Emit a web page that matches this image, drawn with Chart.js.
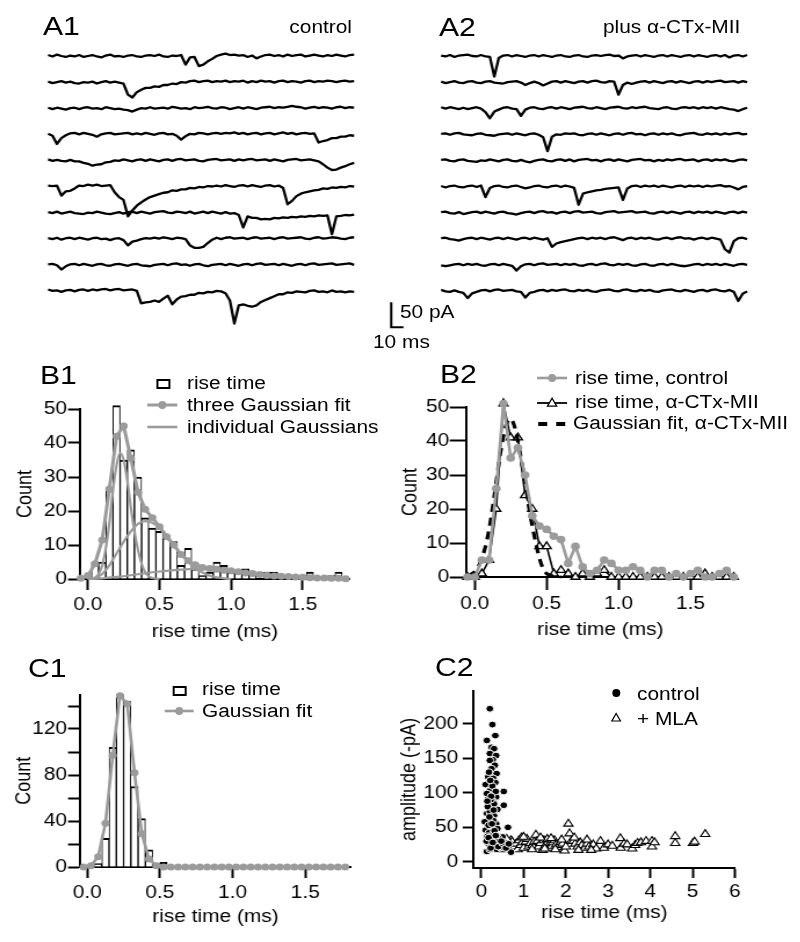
<!DOCTYPE html>
<html><head><meta charset="utf-8">
<script src="https://cdn.jsdelivr.net/npm/chart.js@4.4.1/dist/chart.umd.min.js"></script>
<style>
html,body{margin:0;padding:0;background:#fff;width:800px;height:942px;overflow:hidden;}
#page{position:absolute;left:0;top:0;width:689.66px;height:942px;transform:scaleX(1.16);transform-origin:0 0;}
#page canvas{position:absolute;}
.t{position:absolute;font-family:"Liberation Sans",Arial,sans-serif;color:#000;white-space:nowrap;line-height:1;}
</style></head><body><div id="page"></div>
<script>
// ---------------- DATA ----------------
const DT = 4; // ms per trace sample
// A1: control traces (pA, baseline 0)
const ctl1 = [2,-1,3,0,-2,1,-1,2,-2,0, 2,-1,-3,1,3,-1,0,-2,1,2, -1,-2,1,2,0,3,-1,-2,1,0, 2,-18,-3,-2,-21,-18,-11,-6,0,3, 5,2,3,1,2,-2,1,-5,-1,2, 3,0,2,-1,3,0,2,3,-1,1, 3,1,-1,2,0,3,1,-1,2,3];
const ctl2 = [1,-2,0,2,-1,1,-2,-3,0,-1, 1,-3,0,2,-1,1,-1,-3,-26,-32, -21,-16,-12,-12,-9,-10,-6,-6,-3,-4, 0,-1,2,3,0,2,3,0,2,1, 3,0,2,1,3,-1,2,0,3,1, 2,-1,2,3,0,2,1,-1,2,3, 0,2,1,3,2,0,2,3,1,2];
const ctl3 = [1,-2,1,-1,-3,0,1,-2,1,2, -1,0,-2,2,0,-2,-1,-3,-4,-7, -3,0,-1,2,-1,0,1,-1,3,1, -1,0,-2,2,0,1,3,0,-1,2, 1,-2,0,2,-1,2,0,-2,1,2, 3,0,2,1,3,5,3,2,-1,1, 3,0,2,1,-1,2,3,0,2,1];
const ctl4 = [1,-3,-20,-8,-2,2,3,0,3,1, -1,-5,0,2,3,0,1,2,3,0, 2,0,3,1,-1,2,3,0,1,-3, -11,-4,1,0,3,2,0,2,3,1, 3,2,4,1,3,0,2,3,0,2, 3,0,2,4,1,3,0,2,3,1, 2,-17,-14,-12,-8,-8,-5,-5,-2,-3];
const ctl5 = [2,-1,1,-1,-2,1,-2,-2,-5,-7, -11,-9,-8,-4,-3,0,-1,2,0,-2, 1,2,-1,2,0,-2,1,2,-1,2, 3,0,1,2,-1,-2,1,2,3,0, 1,2,-1,2,0,2,3,0,1,2, -1,2,0,-2,1,2,3,0,1,2, 0,-2,-8,-15,-20,-19,-15,-12,-8,-5];
const ctl6 = [2,1,2,-19,-10,-9,-4,2,1,4, 2,4,1,2,3,-12,-22,-28,-62,-50, -40,-33,-27,-22,-19,-16,-13,-12,-8,-9, -6,-6,-3,-4,-1,-2,1,0,2,0, 3,1,-1,2,3,0,3,1,-1,2, 3,0,2,-3,-37,-30,-20,-15,-12,-10, -8,-7,-4,-5,-2,-3,-1,-2,1,0];
const ctl7 = [1,-1,2,-2,0,2,-1,-2,-3,0, -1,2,0,-2,-3,-1,1,-2,1,2, -1,2,0,-2,1,2,3,0,-1,2, 1,-1,2,-2,0,2,-1,2,0,-2, 1,-2,-1,-5,-31,-8,-11,-11,-14,-13, -14,-11,-12,-10,-11,-9,-10,-8,-9,-7, -8,-6,-7,-6,-45,-8,-7,-5,-6,-4];
const ctl8 = [1,-1,2,-2,1,2,-1,2,0,-2, 1,2,-1,0,-3,0,1,-3,-14,-6, -4,-1,1,0,2,0,3,1,-1,2, 1,-1,-14,-19,-19,-17,-9,-2,2,-1, 2,3,0,1,2,-1,2,3,0,1, 2,-1,2,3,0,1,2,3,0,-1, 2,3,0,1,3,2,0,-1,2,3];
const ctl9 = [1,2,-1,-10,-3,1,2,-1,2,0, -2,1,2,-1,-2,1,2,0,-2,1, 2,-1,-2,-3,0,1,2,-1,2,3, 0,1,-2,1,2,-1,-3,0,1,2, -1,2,0,-2,1,2,-1,2,3,0, 1,2,-1,2,0,-2,1,2,-1,2, 3,0,1,2,3,0,1,2,3,0];
const ctl10 = [3,0,1,-2,1,2,-1,2,3,0, 3,1,3,4,1,3,4,1,2,3, 0,-26,-24,-23,-20,-23,-16,-10,-28,-18, -12,-11,-8,-8,-4,-5,-2,-3,0,-1, -5,-20,-68,-30,-28,-31,-33,-30,-23,-19, -15,-11,-7,-7,-3,-4,-1,-2,-3,0, 1,-2,-1,-3,1,-2,-1,-3,-1,-2];
// A2: plus alpha-CTx-MII traces
const mii1 = [1,-1,2,-2,1,2,3,0,-1,2, -1,-2,-43,-4,1,2,-1,2,0,-2, 1,2,-1,2,0,-2,1,2,-1,-2, 1,2,-1,-2,1,2,0,2,3,0, 1,-5,-1,1,2,-1,2,0,-2,1, 2,-1,2,0,-2,1,2,-1,2,0, -2,1,2,-1,2,-3,1,2,-1,2];
const mii2 = [1,-2,0,2,-1,-2,1,2,-1,-2, 1,2,-1,-2,-3,0,1,2,-1,-6, -2,1,-2,-7,-3,1,2,-1,2,0, -2,1,2,-1,2,3,0,-1,2,1, -26,-6,-1,-4,-1,1,2,-1,2,0, -2,1,2,-1,2,0,-2,1,2,-1, 2,0,2,3,0,1,2,-1,2,0];
const mii3 = [2,-1,2,0,-2,1,-2,0,2,-1, -8,-21,-7,-3,1,2,-1,-2,-16,-3, 1,2,-1,-2,1,2,-1,2,0,-2, 1,2,3,0,-1,2,0,-2,1,2, 3,0,-1,2,0,2,3,0,-1,-2, 1,2,-1,-2,1,2,0,2,-1,2, 0,2,-1,2,0,-2,-3,-6,-2,1];
const mii4 = [1,2,-1,2,3,0,-1,-2,1,2, -1,-2,-3,0,1,2,-1,2,0,-2, 1,2,-1,-6,-35,-5,0,-1,2,1, 2,-1,-2,1,2,-1,2,0,-2,1, 2,-1,2,3,0,1,-2,1,2,-1, 2,0,2,-1,-2,1,2,3,0,-1, 2,0,2,-1,2,0,2,3,0,1];
const mii5 = [1,2,-1,-2,1,2,-1,-2,-3,0, -1,2,0,-2,1,2,-1,-2,1,-2, -4,-1,1,2,-1,-2,1,2,-1,2, -2,1,2,3,0,1,-2,1,2,-1, 2,0,-2,1,2,3,0,1,-2,1, -1,2,0,2,3,0,1,2,-2,1, 2,-1,2,0,2,-1,-2,1,2,0];
const mii6 = [1,-2,1,2,-1,-2,1,2,-1,2, -22,-3,1,2,-1,-2,1,2,-1,-4, -2,1,2,-1,-2,1,2,-1,2,0, -3,-38,-15,-12,-10,-8,-7,-5,-4,-3, -2,-28,-4,1,2,-1,2,0,2,-1, 2,0,-2,1,2,-1,2,0,2,-1, 2,0,2,3,0,1,-2,-6,-1,1];
const mii7 = [1,2,-1,-2,1,-3,-1,1,2,-1, 2,0,-2,1,2,-1,-2,-4,-1,1, 2,-1,2,3,0,1,-2,1,2,-1, 2,3,0,1,2,-1,-2,1,2,3, 0,1,2,3,0,1,2,-1,-2,1, 2,-1,2,0,-2,1,2,-1,2,0, 2,-1,2,0,-2,1,2,-1,2,0];
const mii8 = [1,2,-1,-2,-4,-1,1,2,-1,2, 0,-2,1,2,-1,2,0,-2,1,2, -1,2,0,-2,1,-17,-10,-7,-5,-3, -1,1,2,-1,2,0,2,-1,2,3, 0,-3,1,2,-1,2,0,2,-1,-2, 1,2,-1,2,3,0,1,-2,1,2, -1,2,0,-2,-22,-29,-5,1,2,-1];
const mii9 = [-1,-3,-1,1,2,-1,2,0,2,-1, -2,1,2,-1,2,0,-2,-12,-3,1, 2,-1,2,3,0,1,2,-1,2,0, 2,-1,-2,1,2,-1,2,3,0,-1, 2,0,2,-1,-2,1,2,-1,-2,1, 2,-1,2,0,-2,-3,-1,1,2,-1, 2,0,2,-1,2,0,-2,1,2,0];
const mii10 = [2,-1,-2,1,-2,-4,-15,-5,-2,1, 2,-1,2,3,0,1,2,-1,-2,-14, -4,-2,1,2,-1,2,0,2,3,0, -1,2,0,2,-1,-2,1,2,3,0, -1,2,3,0,-1,2,0,2,-1,-2, 1,2,3,0,-1,2,0,-2,1,2, -1,2,3,0,-1,2,-2,-21,-6,-1];
const scaleBarMs = 10, scaleBarPA = 50;

// B1 / B2: rise-time histograms (bins of 0.05 ms)
const binsB = [-0.05,0,0.05,0.1,0.15,0.2,0.25,0.3,0.35,0.4,0.45,0.5,0.55,0.6,0.65,0.7,0.75,0.8,0.85,0.9,0.95,1.0,1.05,1.1,1.15,1.2,1.25,1.3,1.35,1.4,1.45,1.5,1.55,1.6,1.65,1.7,1.75,1.8];
const countControl = [0,0,5,5,26,51,35,38,30,18, 15,14,12,11,4,9,3,1,2,5, 4,2,2,3,2,0,2,2,0,1, 0,1,2,0,0,1,2,0];
const countMII = [0,0,1,5,20,51,41,41,24,20, 9,9,1,2,1,0,1,0,1,2, 0,0,0,0,0,0,0,0,0,0, 0,0,0,1,0,0,0,0];
const fitThreeGauss = [0.2,1,4.5,11.5,26.5,42,45,35.5,25.5,20.5, 18,15.4,12.4,10,7.2,5.4,4.2,3.4,3.1,2.9, 2.6,2.4,2.1,1.8,1.6,1.3,1.1,0.9,0.8,0.7, 0.6,0.5,0.4,0.3,0.3,0.2,0.2,0.1];
const xNarrow = [0,0.025,0.05,0.075,0.1,0.125,0.15,0.175,0.2,0.225,0.25,0.275,0.3,0.325,0.35,0.375,0.4,0.425,0.45,0.475,0.5];
const gaussNarrow = [0,0.1,0.4,1.5,4,9,16.5,26,33.5,37,35,29,21,14,8.5,4.5,2,0.8,0.3,0.1,0];
const xMedium = [0,0.05,0.1,0.15,0.2,0.25,0.3,0.35,0.4,0.45,0.5,0.55,0.6,0.65,0.7,0.75,0.8,0.85,0.9,0.95,1.0];
const gaussMedium = [0,0.3,1.5,4,7.5,11,14,16.2,17,16.5,15,12.8,10,7.3,5,3.2,1.9,1,0.5,0.2,0];
const xWide = [0,0.1,0.2,0.3,0.4,0.5,0.6,0.7,0.8,0.9,1.0,1.1,1.2,1.3,1.4,1.5,1.6,1.7,1.8];
const gaussWide = [0,0.2,0.6,1.1,1.7,2.2,2.6,2.9,3.0,2.8,2.5,2.0,1.5,1.1,0.8,0.55,0.35,0.22,0.12];
const xFitMII = [-0.05,0,0.025,0.05,0.075,0.1,0.125,0.15,0.175,0.2,0.225,0.25,0.275,0.3,0.325,0.35,0.375,0.4,0.425,0.45,0.475,0.5,0.525,0.55,0.6];
const fitMII = [0.3,1.5,3,5.5,9,14,20.5,28,35.5,41.5,45.5,46.5,44.5,40,34,28,21,15,10,5.5,2.5,1,0.5,0.2,0];

// C1: rise-time histogram
const binsC = [-0.025,0.025,0.075,0.125,0.175,0.225,0.275,0.325,0.375,0.425,0.475,0.525,0.575,0.625,0.675,0.725,0.775,0.825,0.875,0.925,0.975,1.025,1.075,1.125,1.175,1.225,1.275,1.325,1.375,1.425,1.475,1.525,1.575,1.625,1.675,1.725,1.775];
const countC1 = [0,0,3,25,104,150,144,70,42,15, 3,4,0,0,0,0,0,0,0,0, 0,0,0,0,0,0,0,0,0,0, 0,0,0,0,0,0,0];
const fitC1 = [0,1,9,38,97,149,142,82,29,7, 1,0,0,0,0,0,0,0,0,0, 0,0,0,0,0,0,0,0,0,0, 0,0,0,0,0,0,0];

// C2: amplitude vs rise time
const riseCtl = [0.20,0.26,0.33,0.13,0.24,0.30,0.20,0.35,0.27,0.20, 0.32,0.24,0.36,0.16,0.28,0.10,0.33,0.24,0.20,0.53, 0.30,0.16,0.35,0.13,0.27,0.53,0.24,0.38,0.13,0.20, 0.30,0.22,0.20,0.08,0.35,0.63,0.10,0.27,0.18,0.28, 0.50,0.40,0.14,0.33,0.16,0.24,0.43,0.30,0.13,0.70, 0.20,0.36,0.45,0.55,0.60,0.25,0.12,0.38,0.17,0.30, 0.18,0.26,0.34,0.22,0.15,0.28,0.40,0.50,0.47,0.58, 0.65,0.22,0.19,0.29,0.23,0.31,0.17,0.25,0.21,0.34, 0.27,0.14];
const ampCtl = [222,199,183,176,166,164,157,154,148,147, 140,135,128,123,121,112,115,106,103,102, 98,94,94,99,88,82,82,76,70,73, 67,62,58,58,55,50,46,44,42,41, 36,34,37,30,27,26,25,22,15,14, 18,18,21,24,27,33,30,48,53,84, 130,110,102,90,80,60,22,27,30,20, 26,20,65,75,95,45,35,55,118,38, 28,88];
const riseMLA = [0.35,0.41,0.45,0.49,0.55,0.61,0.65,0.70,0.73,0.78, 0.82,0.86,0.89,0.93,0.97,1.00,1.05,1.08,1.12,1.16, 1.21,1.25,1.29,1.32,1.36,1.40,1.45,1.48,1.52,1.56, 1.60,1.63,1.67,1.69,1.73,1.77,1.81,1.85,1.88,1.92, 1.97,2.00,2.06,2.09,2.13,2.18,2.22,2.28,2.34,2.38, 2.45,2.50,2.55,2.65,2.72,2.82,2.90,3.00,3.10,3.29, 3.30,3.38,3.45,3.57,3.64,3.70,3.78,3.90,4.04,4.04, 4.10,4.59,4.59,5.01,5.05,5.30,0.95,1.20,1.50,1.75, 2.30,2.60,0.60,1.00,1.40,1.65,1.90,2.20,2.50];
const ampMLA = [22,29,18,22,27,25,20,31,29,22, 26,18,31,24,28,20,29,33,22,27, 24,29,39,30,22,27,17,31,24,33, 20,27,23,28,31,25,21,24,29,26, 16,22,55,41,30,30,26,22,28,24, 20,26,22,25,19,30,20,25,23,34, 20,26,25,19,24,27,28,30,30,22, 28,37,27,27,29,40,35,18,19,18, 17,17,33,36,35,34,32,35,32];

const ticksRise = [0,0.5,1,1.5];
const ticksCountB = [0,10,20,30,40,50];
const ticksCountC = [0,20,40,60,80,100,120,140];
const ticksRiseC2 = [0,1,2,3,4,5,6];
const ticksAmp = [0,50,100,150,200];

// ---------------- LAYOUT / STYLE ----------------
const S = 1.16;                 // horizontal stretch of the figure
const PAGE_W = 800 / S;
const FONT = '"Liberation Sans", Arial, sans-serif';
const GRAY = '#9b9b9b';
const PX_PER_PA = 24 / 50;      // trace scale
const TRACE_GAP_PX = 26.1;
const TRACE_TOP_BASE = 56;
const page = document.getElementById('page');
Chart.defaults.font.family = FONT;
Chart.defaults.font.size = 18;
Chart.defaults.color = '#000';

function makeCanvas(x, y, w, h) {
  const c = document.createElement('canvas');
  const wd = Math.round(w / S);
  c.width = wd; c.height = h;
  c.style.left = (x / S) + 'px'; c.style.top = y + 'px';
  c.style.width = wd + 'px'; c.style.height = h + 'px';
  page.appendChild(c);
  return c;
}
function addText(str, x, baseline, size, anchor) {
  const d = document.createElement('div');
  d.className = 't';
  d.textContent = str;
  d.style.fontSize = size + 'px';
  d.style.top = (baseline - 0.8465 * size) + 'px';
  if (anchor === 'right') d.style.right = (PAGE_W - x / S) + 'px';
  else d.style.left = (x / S) + 'px';
  page.appendChild(d);
}
function sym(xc, yc, w, h, inner) {
  const ns = 'http://www.w3.org/2000/svg';
  const s = document.createElementNS(ns, 'svg');
  s.setAttribute('viewBox', '0 0 ' + w + ' ' + h);
  s.setAttribute('preserveAspectRatio', 'none');
  s.setAttribute('width', w / S); s.setAttribute('height', h);
  s.style.position = 'absolute';
  s.style.left = ((xc - w / 2) / S) + 'px'; s.style.top = (yc - h / 2) + 'px';
  s.style.overflow = 'visible';
  s.innerHTML = inner;
  page.appendChild(s);
}
const xy = (xs, ys) => xs.map((x, i) => ({ x: x, y: ys[i] }));

function traceChart(box, area, traces, plugins) {
  const cv = makeCanvas(box.x, box.y, box.w, box.h);
  const wd = cv.width;
  const yMax = (TRACE_TOP_BASE - area.t) / PX_PER_PA;
  const yMin = yMax - (area.b - area.t) / PX_PER_PA;
  const gapPA = TRACE_GAP_PX / PX_PER_PA;
  return new Chart(cv, {
    type: 'line',
    data: { datasets: traces.map((vals, k) => ({
      data: vals.map((v, i) => ({ x: i * DT, y: v - k * gapPA })),
      borderColor: '#000', borderWidth: 2.3, pointRadius: 0, tension: 0, clip: false, fill: false, borderJoinStyle: 'round'
    })) },
    options: {
      responsive: false, animation: false, events: [],
      layout: { padding: { left: (area.l - box.x) / S, right: wd - (area.r - box.x) / S, top: area.t - box.y, bottom: box.y + box.h - area.b } },
      plugins: { legend: { display: false }, tooltip: { enabled: false } },
      scales: {
        x: { type: 'linear', display: false, min: 0, max: (traces[0].length - 1) * DT },
        y: { type: 'linear', display: false, min: yMin, max: yMax }
      }
    },
    plugins: plugins || []
  });
}

function axisChart(box, area, o) {
  const cv = makeCanvas(box.x, box.y, box.w, box.h);
  const wd = cv.width;
  const yW = (area.l - box.x) / S;
  const xH = box.y + box.h - area.b;
  const lh = 18 * 1.2;
  return new Chart(cv, {
    type: o.type || 'bar',
    data: { datasets: o.datasets },
    options: {
      responsive: false, animation: false, events: [],
      layout: { padding: { left: 0, top: area.t - box.y, right: wd - (area.r - box.x) / S, bottom: 0 } },
      plugins: { legend: { display: false }, tooltip: { enabled: false } },
      scales: {
        x: {
          type: 'linear', position: 'bottom', min: o.xMin, max: o.xMax, offset: false,
          afterFit: s => { s.height = xH; },
          afterBuildTicks: s => { s.ticks = o.xTicks.map(v => ({ value: v })); },
          grid: { display: true, drawOnChartArea: false, drawTicks: true, tickLength: o.xTickLen, tickWidth: 2, tickColor: '#000', offset: false },
          border: { display: true, color: '#000', width: 2 },
          ticks: { color: '#000', font: { size: 18 }, padding: o.xPad, maxRotation: 0, autoSkip: false, callback: o.xFmt },
          title: { display: true, text: 'rise time (ms)', color: '#000', font: { size: 18 }, padding: { top: 0, bottom: (box.y + box.h - o.xTitleY) - lh / 2 } }
        },
        y: {
          type: 'linear', position: 'left', min: o.yMin, max: o.yMax,
          afterFit: s => { s.width = yW; },
          afterBuildTicks: s => { s.ticks = o.yTicks.map(v => ({ value: v })); },
          grid: { display: true, drawOnChartArea: false, drawTicks: true, tickLength: o.yTickLen, tickWidth: 2, tickColor: '#000' },
          border: { display: true, color: '#000', width: 2 },
          ticks: { color: '#000', font: { size: 18 }, padding: o.yPad, callback: o.yFmt },
          title: { display: true, text: o.yTitle, color: '#000', font: { size: 18 }, padding: { top: (o.yTitleX - box.x) / S - lh / 2, bottom: 0 } }
        }
      }
    }
  });
}

// ---------------- A1 / A2 traces ----------------
traceChart({ x: 44, y: 20, w: 314, h: 326 }, { l: 48, t: 20, r: 354, b: 340 },
  [ctl1, ctl2, ctl3, ctl4, ctl5, ctl6, ctl7, ctl8, ctl9, ctl10]);

const scaleBar = {
  id: 'scaleBar',
  afterDraw(chart) {
    const { ctx } = chart, xs = chart.scales.x, ys = chart.scales.y;
    const t0 = -45, v0 = -565;
    const x0 = xs.getPixelForValue(t0), x1 = xs.getPixelForValue(t0 + scaleBarMs);
    const y0 = ys.getPixelForValue(v0), y1 = ys.getPixelForValue(v0 + scaleBarPA);
    ctx.save(); ctx.strokeStyle = '#000'; ctx.lineWidth = 2; ctx.lineCap = 'square';
    ctx.beginPath(); ctx.moveTo(x0, y1); ctx.lineTo(x0, y0); ctx.lineTo(x1, y0); ctx.stroke(); ctx.restore();
  }
};
traceChart({ x: 365, y: 20, w: 386, h: 335 }, { l: 440.7, t: 20, r: 746.7, b: 340 },
  [mii1, mii2, mii3, mii4, mii5, mii6, mii7, mii8, mii9, mii10], [scaleBar]);

// ---------------- B1 ----------------
const fmt1 = v => v.toFixed(1);
const fmt0 = v => String(v);
axisChart({ x: 0, y: 392, w: 362, h: 258 }, { l: 80, t: 409, r: 350, b: 579 }, {
  xMin: -0.055, xMax: 1.83, xTicks: ticksRise, xFmt: fmt1, xTickLen: 11, xPad: 4, xTitleY: 632,
  yMin: 0, yMax: 50, yTicks: ticksCountB, yFmt: fmt0, yTickLen: 10.3, yPad: 1, yTitle: 'Count', yTitleX: 26,
  datasets: [
    { type: 'line', data: xy(binsB, fitThreeGauss), borderColor: GRAY, borderWidth: 3, pointRadius: 3.5, pointBackgroundColor: GRAY, pointBorderWidth: 0, tension: 0, clip: false, order: 1 },
    { type: 'line', data: xy(xNarrow, gaussNarrow), borderColor: GRAY, borderWidth: 2.2, pointRadius: 0, cubicInterpolationMode: 'monotone', clip: false, order: 2 },
    { type: 'line', data: xy(xMedium, gaussMedium), borderColor: GRAY, borderWidth: 2.2, pointRadius: 0, cubicInterpolationMode: 'monotone', clip: false, order: 2 },
    { type: 'line', data: xy(xWide, gaussWide), borderColor: GRAY, borderWidth: 2.2, pointRadius: 0, cubicInterpolationMode: 'monotone', clip: false, order: 2 },
    { type: 'bar', data: xy(binsB, countControl), backgroundColor: '#fff', borderColor: '#000', borderWidth: { top: 2, left: 1, right: 1, bottom: 0 }, barPercentage: 1, categoryPercentage: 1, grouped: false, clip: false, order: 10 }
  ]
});

// ---------------- B2 ----------------
axisChart({ x: 390, y: 390, w: 352, h: 260 }, { l: 467, t: 407, r: 734, b: 577 }, {
  type: 'line',
  xMin: -0.055, xMax: 1.8, xTicks: ticksRise, xFmt: fmt1, xTickLen: 13, xPad: 3, xTitleY: 630,
  yMin: 0, yMax: 50, yTicks: ticksCountB, yFmt: fmt0, yTickLen: 14.7, yPad: 0.5, yTitle: 'Count', yTitleX: 411,
  datasets: [
    { type: 'line', data: xy(binsB, countControl), borderColor: GRAY, borderWidth: 2.6, pointRadius: 3.8, pointBackgroundColor: GRAY, pointBorderWidth: 0, tension: 0, clip: false, order: 1 },
    { type: 'line', data: xy(xFitMII, fitMII), borderColor: '#000', borderWidth: 3.2, borderDash: [8, 6], pointRadius: 0, cubicInterpolationMode: 'monotone', clip: false, order: 2 },
    { type: 'line', data: xy(binsB, countMII), borderColor: '#000', borderWidth: 1.6, pointStyle: 'triangle', pointRadius: 4.5, pointBackgroundColor: '#fff', pointBorderColor: '#000', pointBorderWidth: 1.3, tension: 0, clip: false, order: 3 }
  ]
});

// ---------------- C1 ----------------
axisChart({ x: 0, y: 680, w: 362, h: 262 }, { l: 80, t: 694.5, r: 351, b: 867 }, {
  xMin: -0.05, xMax: 1.815, xTicks: ticksRise, xFmt: fmt1, xTickLen: 11, xPad: 4, xTitleY: 917,
  yMin: 0, yMax: 150, yTicks: ticksCountC, yFmt: v => (v % 40 === 0 ? String(v) : ''), yTickLen: 10.3, yPad: 1, yTitle: 'Count', yTitleX: 24,
  datasets: [
    { type: 'line', data: xy(binsC, fitC1), borderColor: GRAY, borderWidth: 2.6, pointRadius: 3.5, pointBackgroundColor: GRAY, pointBorderWidth: 0, tension: 0, clip: false, order: 1 },
    { type: 'bar', data: xy(binsC, countC1), backgroundColor: '#fff', borderColor: '#000', borderWidth: { top: 2, left: 1, right: 1, bottom: 0 }, barPercentage: 1, categoryPercentage: 1, grouped: false, clip: false, order: 10 }
  ]
});

// ---------------- C2 ----------------
axisChart({ x: 390, y: 676, w: 360, h: 266 }, { l: 474, t: 690, r: 735, b: 868 }, {
  type: 'scatter',
  xMin: -0.18, xMax: 6.0, xTicks: ticksRiseC2, xFmt: fmt0, xTickLen: 10, xPad: 3, xTitleY: 913,
  yMin: -9, yMax: 248, yTicks: ticksAmp, yFmt: fmt0, yTickLen: 9.5, yPad: 4, yTitle: 'amplitude (-pA)', yTitleX: 410,
  datasets: [
    { type: 'scatter', data: xy(riseCtl, ampCtl), pointStyle: 'circle', pointRadius: 3.4, pointBackgroundColor: '#000', pointBorderColor: '#fff', pointBorderWidth: 1, showLine: false, clip: false, order: 1 },
    { type: 'scatter', data: xy(riseMLA, ampMLA), pointStyle: 'triangle', pointRadius: 4.6, pointBackgroundColor: '#fff', pointBorderColor: '#000', pointBorderWidth: 1.1, showLine: false, clip: false, order: 2 }
  ]
});

// ---------------- TEXT & LEGENDS ----------------
addText('A1', 43, 35, 26);
addText('control', 352, 33, 18, 'right');
addText('A2', 439, 36, 26);
addText('plus \u03b1-CTx-MII', 603, 33, 18);
addText('50 pA', 400, 318.5, 18);
addText('10 ms', 373, 348, 18);

addText('B1', 40, 384, 26);
sym(163.5, 384, 16, 12, '<rect x="2" y="2" width="12" height="8" fill="#fff" stroke="#000" stroke-width="2"/>');
addText('rise time', 187, 389, 18);
sym(162.5, 405, 30, 10, '<line x1="0" y1="5" x2="30" y2="5" stroke="' + GRAY + '" stroke-width="3"/><circle cx="15" cy="5" r="4" fill="' + GRAY + '"/>');
addText('three Gaussian fit', 187, 411, 18);
sym(162.5, 427, 30, 10, '<line x1="0" y1="5" x2="30" y2="5" stroke="' + GRAY + '" stroke-width="2.6"/>');
addText('individual Gaussians', 187, 433, 18);

addText('B2', 440, 383, 26);
sym(552.5, 378, 30, 10, '<line x1="0" y1="5" x2="30" y2="5" stroke="' + GRAY + '" stroke-width="2.6"/><circle cx="15" cy="5" r="4" fill="' + GRAY + '"/>');
addText('rise time, control', 575, 384, 18);
sym(552.5, 403, 30, 12, '<line x1="0" y1="6" x2="30" y2="6" stroke="#000" stroke-width="1.8"/><polygon points="15,1.2 19.6,9.2 10.4,9.2" fill="#fff" stroke="#000" stroke-width="1.3"/>');
addText('rise time, \u03b1-CTx-MII', 575, 408.5, 18);
sym(552, 423.5, 28, 6, '<line x1="0" y1="3" x2="9" y2="3" stroke="#000" stroke-width="4"/><line x1="18" y1="3" x2="27" y2="3" stroke="#000" stroke-width="4"/>');
addText('Gaussian fit, \u03b1-CTx-MII', 573, 429.5, 18);

addText('C1', 28, 677, 26);
sym(180, 691, 16, 12, '<rect x="2" y="2" width="12" height="8" fill="#fff" stroke="#000" stroke-width="2"/>');
addText('rise time', 202, 695.5, 18);
sym(179, 711, 29, 10, '<line x1="0" y1="5" x2="29" y2="5" stroke="' + GRAY + '" stroke-width="2.6"/><circle cx="14.5" cy="5" r="4" fill="' + GRAY + '"/>');
addText('Gaussian fit', 202, 717, 18);

addText('C2', 435, 676, 26);
sym(616, 693, 10, 10, '<circle cx="5" cy="5" r="4" fill="#000"/>');
addText('control', 637, 700, 18);
sym(616, 718, 12, 12, '<polygon points="6,1.5 10.3,9 1.7,9" fill="#fff" stroke="#000" stroke-width="1.2"/>');
addText('+ MLA', 637, 725, 18);
</script></body></html>
